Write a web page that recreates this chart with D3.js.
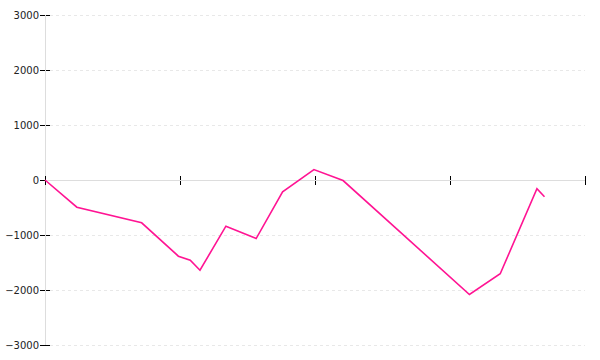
<!DOCTYPE html>
<html>
<head>
<meta charset="utf-8">
<script src="https://cdn.jsdelivr.net/npm/d3@7"></script>
<style>
  body { margin: 0; background: #fff; }
  svg { display: block; }
</style>
</head>
<body>
<svg id="chart" width="600" height="360"></svg>
<script>
// Data (x position along an unlabeled axis 0..100, y value)
const xValues = [0, 5.9, 17.9, 24.7, 26.9, 28.7, 33.5, 39.1, 44.0, 49.8, 55.2, 78.6, 84.3, 91.1, 92.5];
const yValues = [0, -495, -778, -1385, -1458, -1640, -840, -1064, -215, 190, -10, -2082, -1705, -160, -305];
const xTicks = [0, 25, 50, 75, 100];
const yTicks = [-3000, -2000, -1000, 0, 1000, 2000, 3000];

const svg = d3.select("#chart");
const x = d3.scaleLinear().domain([0, 100]).range([45, 585]);
const y = d3.scaleLinear().domain([-3000, 3000]).range([345, 15]);

// gridlines
svg.append("g").selectAll("line")
  .data(yTicks.filter(d => d !== 0))
  .join("line")
  .attr("x1", 50).attr("x2", 585)
  .attr("y1", d => y(d) + 0.5).attr("y2", d => y(d) + 0.5)
  .attr("stroke", "#e8e8e8")
  .attr("stroke-dasharray", "3,3");

// y axis ticks + labels
const yAxis = svg.append("g")
  .attr("transform", "translate(45,0)")
  .call(d3.axisLeft(y).tickValues(yTicks).tickSize(5).tickPadding(1).tickFormat(d3.format("d")));
yAxis.select(".domain").remove();
yAxis.selectAll(".tick line").attr("x1", 5).attr("stroke", "#000");
yAxis.selectAll(".tick text")
  .attr("font-family", "DejaVu Sans, sans-serif")
  .attr("font-size", 10)
  .attr("fill", "#222");

// y axis line
svg.append("line")
  .attr("x1", 45.5).attr("x2", 45.5)
  .attr("y1", 15).attr("y2", 345)
  .attr("stroke", "#ddd");

// x axis ticks (no labels)
const xAxis = svg.append("g")
  .attr("transform", `translate(0,${y(0)})`)
  .call(d3.axisBottom(x).tickValues(xTicks).tickSize(5).tickFormat(""));
xAxis.select(".domain").remove();
xAxis.selectAll(".tick line").attr("y1", -4).attr("stroke", "#000");

// x axis line
svg.append("line")
  .attr("x1", 45).attr("x2", 585)
  .attr("y1", y(0) + 0.5).attr("y2", y(0) + 0.5)
  .attr("stroke", "#ddd");

// series line
const data = xValues.map((d, i) => [d, yValues[i]]);
svg.append("path")
  .datum(data)
  .attr("fill", "none")
  .attr("stroke", "#ff1493")
  .attr("stroke-width", 1.6)
  .attr("d", d3.line().x(d => x(d[0])).y(d => y(d[1])));
</script>
</body>
</html>
